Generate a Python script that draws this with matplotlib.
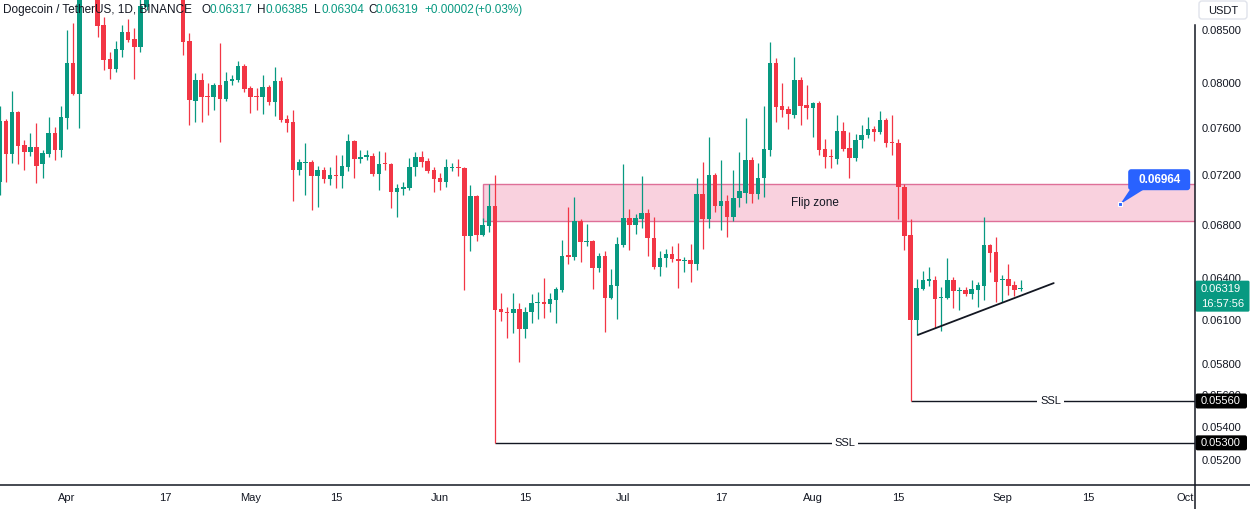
import matplotlib
matplotlib.use("Agg")
import matplotlib.pyplot as plt
import matplotlib.dates as mdates
import matplotlib.ticker as mticker
from matplotlib.patches import FancyBboxPatch, Rectangle, Polygon
import numpy as np
import pandas as pd

plt.rcParams['font.family'] = ['Liberation Sans', 'DejaVu Sans']

# ---------------- data (DOGE/USDT daily) ----------------
start_date = "2023-03-21"

opens = [
    0.07140, 0.07662, 0.07379, 0.07741, 0.07456, 0.07396, 0.07439, 0.07288, 0.07379, 0.07558, 0.07413,
    0.07689, 0.08186, 0.07902, 0.09300, 0.09450, 0.09200, 0.08549, 0.08223, 0.08130, 0.08309,
    0.08481, 0.08414, 0.08337, 0.08727, 0.09050, 0.09200, 0.09250, 0.09000, 0.09200, 0.09050,
    0.08395, 0.07839, 0.08029, 0.07884, 0.07875, 0.07983, 0.07857, 0.08020, 0.08029, 0.08158,
    0.07956, 0.07884, 0.07875, 0.07965, 0.07830, 0.08020, 0.07680, 0.07654, 0.07238, 0.07304,
    0.07312, 0.07189, 0.07238, 0.07164, 0.07197, 0.07189, 0.07271, 0.07490, 0.07337, 0.07354,
    0.07363, 0.07205, 0.07296, 0.07296, 0.07059, 0.07083, 0.07091, 0.07263, 0.07354, 0.07321,
    0.07238, 0.07172, 0.07140, 0.07255, 0.07271, 0.07255, 0.06713, 0.07026, 0.06721, 0.06790,
    0.06947, 0.06177, 0.06156, 0.06149, 0.06177, 0.06038, 0.06156, 0.06220, 0.06227, 0.06213,
    0.06241, 0.06312, 0.06569, 0.06554, 0.06829, 0.06667, 0.06675, 0.06472, 0.06562, 0.06255,
    0.06341, 0.06644, 0.06853, 0.06798, 0.06845, 0.06892, 0.06698, 0.06480, 0.06547, 0.06577,
    0.06539, 0.06524, 0.06532, 0.06502, 0.07043, 0.06845, 0.07197, 0.06947, 0.06986, 0.06861,
    0.07010, 0.07051, 0.07329, 0.07043, 0.07172, 0.07413, 0.08186, 0.07795, 0.07768, 0.07715,
    0.08029, 0.07804, 0.07777, 0.07821, 0.07422, 0.07363, 0.07337, 0.07575, 0.07430, 0.07346,
    0.07498, 0.07541, 0.07593, 0.07567, 0.07671, 0.07481, 0.07473, 0.07099, 0.06721, 0.06100,
    0.06319, 0.06377, 0.06385, 0.06255, 0.06255, 0.06385, 0.06305, 0.06312, 0.06284, 0.06312,
    0.06341, 0.06644, 0.06592, 0.06385, 0.06392, 0.06348, 0.06317,
]
highs = [
    0.07795, 0.07680, 0.07929, 0.07750, 0.07498, 0.07558, 0.07645, 0.07413, 0.07697, 0.07610, 0.07795,
    0.08500, 0.08568, 0.10300, 0.09900, 0.09650, 0.09350, 0.08626, 0.08290, 0.08394, 0.08549,
    0.08607, 0.08519, 0.08827, 0.09200, 0.09300, 0.09350, 0.09350, 0.09300, 0.09250, 0.09100,
    0.08471, 0.08093, 0.08093, 0.08002, 0.08002, 0.08375, 0.08102, 0.08075, 0.08205, 0.08177,
    0.07974, 0.07956, 0.08075, 0.07983, 0.08149, 0.08057, 0.07715, 0.07759, 0.07337, 0.07473,
    0.07329, 0.07279, 0.07271, 0.07271, 0.07371, 0.07371, 0.07549, 0.07498, 0.07413, 0.07413,
    0.07388, 0.07405, 0.07396, 0.07304, 0.07124, 0.07140, 0.07346, 0.07396, 0.07405, 0.07346,
    0.07271, 0.07221, 0.07337, 0.07304, 0.07337, 0.07271, 0.07115, 0.07034, 0.06853, 0.07124,
    0.07197, 0.06291, 0.06191, 0.06291, 0.06220, 0.06191, 0.06284, 0.06298, 0.06399, 0.06291,
    0.06334, 0.06682, 0.06939, 0.07018, 0.06845, 0.06806, 0.06682, 0.06584, 0.06599, 0.06465,
    0.06705, 0.07288, 0.06923, 0.06884, 0.07189, 0.06923, 0.06861, 0.06599, 0.06614, 0.06637,
    0.06660, 0.06554, 0.06652, 0.07172, 0.07312, 0.07524, 0.07221, 0.07329, 0.07034, 0.07238,
    0.07396, 0.07689, 0.07354, 0.07304, 0.07795, 0.08385, 0.08233, 0.08002, 0.07795, 0.08243,
    0.08057, 0.07983, 0.07830, 0.07839, 0.07507, 0.07422, 0.07715, 0.07654, 0.07567, 0.07549,
    0.07628, 0.07697, 0.07619, 0.07750, 0.07689, 0.07715, 0.07507, 0.07124, 0.06845, 0.06392,
    0.06450, 0.06480, 0.06414, 0.06334, 0.06547, 0.06407, 0.06334, 0.06334, 0.06385, 0.06370,
    0.06861, 0.06652, 0.06705, 0.06421, 0.06502, 0.06377, 0.06385,
]
lows = [
    0.07034, 0.07140, 0.07304, 0.07296, 0.07246, 0.07363, 0.07132, 0.07172, 0.07354, 0.07329, 0.07354,
    0.07593, 0.07893, 0.07602, 0.09050, 0.09000, 0.08433, 0.08121, 0.08038, 0.08103, 0.08243,
    0.08385, 0.08038, 0.08290, 0.08697, 0.08950, 0.09050, 0.08900, 0.08850, 0.08900, 0.08262,
    0.07628, 0.07654, 0.07654, 0.07715, 0.07759, 0.07481, 0.07839, 0.07983, 0.08011, 0.07920,
    0.07732, 0.07759, 0.07724, 0.07804, 0.07706, 0.07654, 0.07567, 0.06986, 0.07197, 0.07034,
    0.06915, 0.06939, 0.07132, 0.07115, 0.07091, 0.07091, 0.07230, 0.07172, 0.07304, 0.07329,
    0.07189, 0.07075, 0.07246, 0.06931, 0.06861, 0.07034, 0.07075, 0.07189, 0.07263, 0.07221,
    0.07059, 0.07075, 0.07099, 0.07230, 0.07189, 0.06312, 0.06599, 0.06675, 0.06713, 0.06744,
    0.05300, 0.06093, 0.05976, 0.06010, 0.05815, 0.05976, 0.06079, 0.06107, 0.06114, 0.06156,
    0.06079, 0.06298, 0.06502, 0.06532, 0.06517, 0.06637, 0.06319, 0.06443, 0.06017, 0.06248,
    0.06107, 0.06629, 0.06607, 0.06729, 0.06775, 0.06562, 0.06465, 0.06414, 0.06480, 0.06517,
    0.06326, 0.06443, 0.06370, 0.06458, 0.06614, 0.06775, 0.06900, 0.06759, 0.06705, 0.06829,
    0.06939, 0.06971, 0.06971, 0.07002, 0.07018, 0.07363, 0.07654, 0.07697, 0.07593, 0.07689,
    0.07628, 0.07680, 0.07524, 0.07371, 0.07255, 0.07255, 0.07296, 0.07405, 0.07172, 0.07321,
    0.07430, 0.07515, 0.07490, 0.07549, 0.07439, 0.07371, 0.06845, 0.06607, 0.05560, 0.05997,
    0.06312, 0.06341, 0.06045, 0.06024, 0.06248, 0.06184, 0.06170, 0.06269, 0.06248, 0.06191,
    0.06241, 0.06443, 0.06227, 0.06227, 0.06276, 0.06269, 0.06304,
]
closes = [
    0.07662, 0.07379, 0.07741, 0.07447, 0.07396, 0.07439, 0.07279, 0.07388, 0.07558, 0.07413, 0.07697,
    0.08186, 0.07902, 0.09300, 0.09450, 0.09200, 0.08539, 0.08214, 0.08130, 0.08319, 0.08481,
    0.08404, 0.08337, 0.08737, 0.09050, 0.09200, 0.09250, 0.09000, 0.09200, 0.09050, 0.08385,
    0.07848, 0.08029, 0.07875, 0.07875, 0.07983, 0.07857, 0.08020, 0.08038, 0.08158, 0.07947,
    0.07875, 0.07875, 0.07965, 0.07830, 0.08020, 0.07671, 0.07645, 0.07238, 0.07312, 0.07312,
    0.07189, 0.07238, 0.07164, 0.07197, 0.07189, 0.07279, 0.07490, 0.07337, 0.07354, 0.07371,
    0.07205, 0.07296, 0.07288, 0.07059, 0.07091, 0.07099, 0.07263, 0.07354, 0.07312, 0.07230,
    0.07164, 0.07140, 0.07263, 0.07271, 0.07255, 0.06713, 0.07026, 0.06721, 0.06798, 0.06947,
    0.06170, 0.06156, 0.06149, 0.06177, 0.06038, 0.06156, 0.06220, 0.06227, 0.06213, 0.06248,
    0.06319, 0.06562, 0.06554, 0.06829, 0.06667, 0.06675, 0.06472, 0.06562, 0.06255, 0.06348,
    0.06652, 0.06853, 0.06798, 0.06853, 0.06892, 0.06698, 0.06480, 0.06547, 0.06577, 0.06539,
    0.06524, 0.06532, 0.06502, 0.07043, 0.06845, 0.07197, 0.06947, 0.06986, 0.06861, 0.07010,
    0.07067, 0.07329, 0.07043, 0.07180, 0.07421, 0.08186, 0.07786, 0.07759, 0.07724, 0.08029,
    0.07795, 0.07777, 0.07821, 0.07413, 0.07354, 0.07354, 0.07575, 0.07422, 0.07346, 0.07498,
    0.07541, 0.07593, 0.07567, 0.07671, 0.07473, 0.07473, 0.07099, 0.06713, 0.06100, 0.06326,
    0.06385, 0.06392, 0.06248, 0.06262, 0.06385, 0.06305, 0.06312, 0.06284, 0.06319, 0.06348,
    0.06644, 0.06584, 0.06370, 0.06392, 0.06341, 0.06312, 0.06319,
]

tick_dates = ["2023-04-01", "2023-04-17", "2023-05-01", "2023-05-15", "2023-06-01", "2023-06-15",
              "2023-07-01", "2023-07-17", "2023-08-01", "2023-08-15", "2023-09-01", "2023-09-15",
              "2023-10-01"]
tick_labels = ["Apr", "17", "May", "15", "Jun", "15", "Jul", "17", "Aug", "15", "Sep", "15", "Oct"]
price_ticks = [0.085, 0.080, 0.076, 0.072, 0.068, 0.064, 0.061, 0.058, 0.056, 0.054, 0.052]

flip_zone = (0.06831, 0.07126)
flip_zone_start = "2023-06-08"
flip_label_date = "2023-08-01 10:00"
callout_date = "2023-09-20 07:00"
callout_price = 0.06964
callout_text = "0.06964"
ssl_levels = [0.0556, 0.0530]
ssl_starts = ["2023-08-17", "2023-06-10"]
ssl_label_dates = ["2023-09-08 22:00", "2023-08-06 07:00"]
ssl_value_labels = ["0.05560", "0.05300"]
trend_dates = ["2023-08-18 05:00", "2023-09-09 10:00"]
trend_prices = [0.05997, 0.06363]
last_price_label = "0.06319"
countdown = "16:57:56"
title_parts = [("Dogecoin / TetherUS, 1D, BINANCE", 3, "#131722"),
               ("O", 202, "#131722"), ("0.06317", 210, "#089981"),
               ("H", 257, "#131722"), ("0.06385", 266, "#089981"),
               ("L", 314, "#131722"), ("0.06304", 321, "#089981"),
               ("C", 368, "#131722"), ("0.06319", 376, "#089981"),
               ("+0.00002", 424, "#089981"), ("(+0.03%)", 474, "#089981")]

# ---------------- figure ----------------
W, H = 1250, 509
UP, DOWN, INK = "#089981", "#F23645", "#131722"
fig = plt.figure(figsize=(W / 100, H / 100), dpi=100)
axis_y = 484.5
axis_x = 1194.5
ax = fig.add_axes([0, (H - axis_y) / H, axis_x / W, axis_y / H])
ax.set_yscale("log")

dates = pd.date_range(start_date, periods=len(opens), freq="D")
xs = mdates.date2num(dates)
o = np.array(opens); h = np.array(highs); l = np.array(lows); c = np.array(closes)
up = c >= o
cols = np.where(up, UP, DOWN)
px_ratio = np.exp(1 / 875.0)
bot = np.minimum(o, c)
top = np.maximum(np.maximum(o, c), bot * px_ratio)

ax.vlines(xs, l, h, colors=cols, lw=0.9, zorder=3)
ax.bar(xs, top - bot, bottom=bot, width=0.74, color=cols, lw=0, zorder=4)

x_apr1 = mdates.date2num(pd.Timestamp("2023-04-01"))
x_left, x_right = x_apr1 - 10.97, x_apr1 + 184.45
ax.set_xlim(x_left, x_right)
ax.set_ylim(0.050534, 0.08797)

for s in ax.spines.values():
    s.set_visible(False)
ax.set_facecolor("white")

ax.yaxis.tick_right()
ax.set_yticks(price_ticks)
ax.yaxis.set_major_formatter(mticker.FormatStrFormatter("%.5f"))
ax.yaxis.set_minor_locator(mticker.NullLocator())
ax.tick_params(axis="y", length=0, pad=5, labelsize=8, labelcolor=INK)
ax.set_xticks(mdates.date2num(pd.to_datetime(tick_dates)))
ax.set_xticklabels(tick_labels)
ax.tick_params(axis="x", length=0, pad=6, labelsize=8, labelcolor=INK)

# flip zone
xf = mdates.date2num(pd.Timestamp(flip_zone_start))
ax.add_patch(Rectangle((xf, flip_zone[0]), x_right + 5 - xf, flip_zone[1] - flip_zone[0],
                       facecolor="#F9D1DE", edgecolor="#DE6F98", lw=1.0, zorder=1))
ax.text(mdates.date2num(pd.Timestamp(flip_label_date)), np.sqrt(flip_zone[0] * flip_zone[1]),
        "Flip zone", ha="center", va="center", fontsize=8.5, color=INK, zorder=5)

# SSL lines
for lvl, sd, ld in zip(ssl_levels, ssl_starts, ssl_label_dates):
    xs0 = mdates.date2num(pd.Timestamp(sd))
    ax.hlines(lvl, xs0, x_right + 2, color=INK, lw=1.0, zorder=2)
    ax.text(mdates.date2num(pd.Timestamp(ld)), lvl, "SSL", ha="center", va="center",
            fontsize=8, color=INK, zorder=5,
            bbox=dict(boxstyle="square,pad=0.25", fc="white", ec="none"))

# trend line
ax.plot(mdates.date2num(pd.to_datetime(trend_dates)), trend_prices, color=INK, lw=1.3, zorder=5,
        solid_capstyle="round")

# ---------------- overlay in pixel coordinates ----------------
ov = fig.add_axes([0, 0, 1, 1])
ov.set_xlim(0, W); ov.set_ylim(H, 0); ov.axis("off"); ov.set_zorder(10)
ov.patch.set_alpha(0)

def to_px(xd, price):
    dx, dy = ax.transData.transform((xd, price))
    return dx, H - dy

ov.plot([0, W], [axis_y, axis_y], color=INK, lw=1.1)
ov.plot([axis_x, axis_x], [25, H], color=INK, lw=1.1)

# title
for txt, xp, colr in title_parts:
    ov.text(xp, 10, txt, ha="left", va="center", fontsize=8.5, color=colr)

# USDT box
ov.add_patch(FancyBboxPatch((1199, 1), 48, 18, boxstyle="round,pad=0,rounding_size=3",
                            fc="white", ec="#E0E3EB", lw=1))
ov.text(1223, 10.5, "USDT", ha="center", va="center", fontsize=8, color=INK)

# last price label
_, ylast = to_px(x_right, closes[-1])
ov.add_patch(FancyBboxPatch((1195.5, ylast - 8.5), 54, 31, boxstyle="round,pad=0,rounding_size=1.5",
                            fc=UP, ec="none"))
ov.text(1201, ylast, last_price_label, ha="left", va="center", fontsize=8, color="white")
ov.text(1201, ylast + 15, countdown, ha="left", va="center", fontsize=8, color="white")

# SSL price labels
for lvl, lab in zip(ssl_levels, ssl_value_labels):
    _, yp = to_px(x_right, lvl)
    ov.add_patch(FancyBboxPatch((1195.5, yp - 7.5), 51.5, 15, boxstyle="round,pad=0,rounding_size=2",
                                fc="black", ec="none"))
    ov.text(1201, yp, lab, ha="left", va="center", fontsize=8, color="white")

# callout
cx, cy = to_px(mdates.date2num(pd.Timestamp(callout_date)), callout_price)
ov.add_patch(FancyBboxPatch((cx + 8, cy - 35), 62, 21, boxstyle="round,pad=0,rounding_size=3",
                            fc="#2962FF", ec="none"))
ov.add_patch(Polygon([(cx, cy), (cx + 10, cy - 15), (cx + 24, cy - 15)], closed=True,
                     fc="#2962FF", ec="none"))
ov.plot([cx], [cy], marker="s", ms=3.5, mfc="#2962FF", mec="white", mew=0.8)
ov.text(cx + 39, cy - 24.5, callout_text, ha="center", va="center", fontsize=8.5,
        color="white", fontweight="bold")

fig.savefig("out.png", dpi=100, facecolor="white")
